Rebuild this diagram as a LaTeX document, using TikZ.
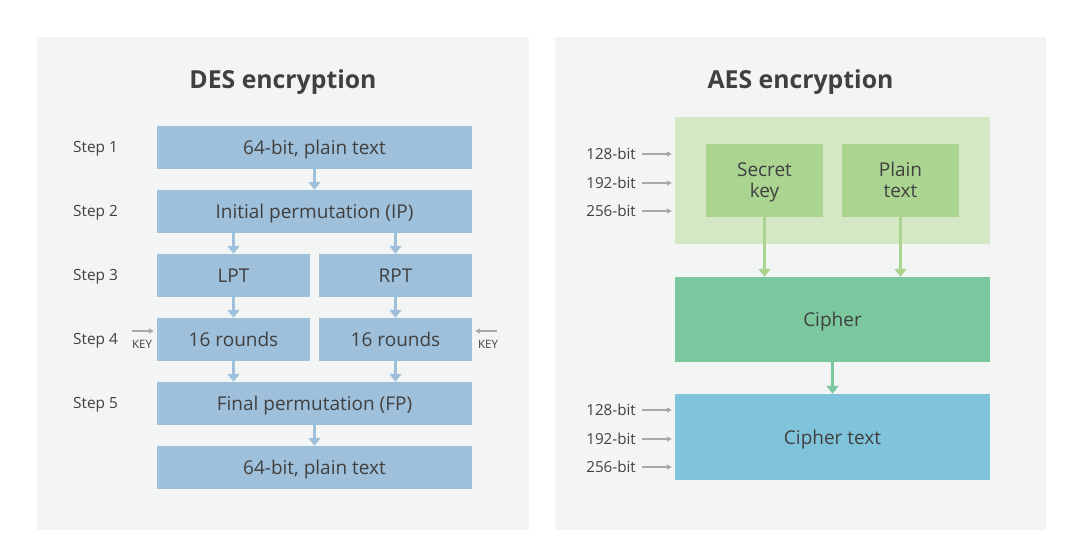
\documentclass[tikz,border=0pt]{standalone}
\usepackage{fontspec}
\setmainfont{Open Sans}
\usetikzlibrary{arrows.meta}
\definecolor{panel}{HTML}{F3F5F5}
\definecolor{ink}{HTML}{404040}
\definecolor{desblue}{HTML}{9EC0DB}
\definecolor{paleg}{HTML}{D4E8C6}
\definecolor{midg}{HTML}{ACD491}
\definecolor{cipherg}{HTML}{7BC89E}
\definecolor{ctblue}{HTML}{80C4DB}
\definecolor{keygray}{HTML}{A8A8A8}
\begin{document}
\begin{tikzpicture}[x=1pt,y=-1pt,
    box/.style={fill=#1, text=ink, inner sep=0pt, font=\fontsize{19}{21}\selectfont, align=center, text height=14pt, text depth=0pt},
    twoline/.style={text height=35pt, text depth=0pt},
    wide/.style={minimum width=315pt, minimum height=43pt},
    half/.style={minimum width=153pt, minimum height=43pt},
    steplbl/.style={text=ink, font=\fontsize{15.4}{17}\selectfont, anchor=west, inner sep=0pt},
    bitlbl/.style={text=ink, font=\fontsize{15.2}{17}\selectfont, anchor=east, inner sep=0pt},
    keylbl/.style={text=ink, font=\fontsize{11.5}{13}\selectfont, inner sep=0pt},
    title/.style={text=ink, font=\fontsize{24.8}{28}\selectfont\bfseries},
    flow/.style={draw=#1, line width=3pt, -{Triangle[width=12pt,length=8pt]}},
    keyarrow/.style={draw=keygray, line width=1.2pt, -{Triangle[width=5pt,length=5pt]}}]
    \useasboundingbox (0,0) rectangle (1079,545);
    \fill[white] (0,0) rectangle (1079,545);
    \fill[panel] (37,37) rectangle (529,530);
    \fill[panel] (555,37) rectangle (1046,530);

    % DES
    \node[title] (destitle) at (283,82) {DES encryption};
    \node[box=desblue, wide] (in) at (314.5,147.5) {64-bit, plain text};
    \node[box=desblue, wide] (ip) at (314.5,211.5) {Initial permutation (IP)};
    \node[box=desblue, half] (lpt) at (233.5,275.5) {LPT};
    \node[box=desblue, half] (rpt) at (395.5,275.5) {RPT};
    \node[box=desblue, half] (lr) at (233.5,339.5) {16 rounds};
    \node[box=desblue, half] (rr) at (395.5,339.5) {16 rounds};
    \node[box=desblue, wide] (fp) at (314.5,403.5) {Final permutation (FP)};
    \node[box=desblue, wide] (out) at (314.5,467.5) {64-bit, plain text};

    \node[steplbl] (s1) at (73,148.5) {Step 1};
    \node[steplbl] (s2) at (73,212.5) {Step 2};
    \node[steplbl] (s3) at (73,276.5) {Step 3};
    \node[steplbl] (s4) at (73,340.5) {Step 4};
    \node[steplbl] (s5) at (73,404.5) {Step 5};

    \node[keylbl] (keyl) at (142,344) {KEY};
    \node[keylbl] (keyr) at (488,344) {KEY};
    \coordinate (kl) at (132,331); \coordinate (kr) at (497,331);

    \draw[flow=desblue] (in) to (ip);
    \draw[flow=desblue] (ip.south -| lpt.north) to (lpt.north); \draw[flow=desblue] (ip.south -| rpt.north) to (rpt.north);
    \draw[flow=desblue] (lpt) to (lr); \draw[flow=desblue] (rpt) to (rr);
    \draw[flow=desblue] (lr.south) to (fp.north -| lr.south); \draw[flow=desblue] (rr.south) to (fp.north -| rr.south);
    \draw[flow=desblue] (fp) to (out);
    \draw[keyarrow] (kl) to ([xshift=-3pt]kl -| lr.west); \draw[keyarrow] (kr) to ([xshift=3pt]kr -| rr.east);

    % AES
    \node[title] (aestitle) at (800.5,82) {AES encryption};
    \node[fill=paleg, minimum width=315pt, minimum height=127pt, inner sep=0pt] (inputs) at (832.5,180.5) {};
    \node[box=midg, twoline, minimum width=117pt, minimum height=73pt] (skey) at (764.5,180.5) {Secret\\key};
    \node[box=midg, twoline, minimum width=117pt, minimum height=73pt] (ptext) at (900.5,180.5) {Plain\\text};
    \node[box=cipherg, minimum width=315pt, minimum height=85pt] (cipher) at (832.5,319.5) {Cipher};
    \node[box=ctblue, minimum width=315pt, minimum height=86pt] (ctext) at (832.5,437) {Cipher text};

    \node[bitlbl] (a128) at (636,154) {128-bit};
    \node[bitlbl] (a192) at (636,183) {192-bit};
    \node[bitlbl] (a256) at (636,211) {256-bit};
    \node[bitlbl] (b128) at (636,410) {128-bit};
    \node[bitlbl] (b192) at (636,439) {192-bit};
    \node[bitlbl] (b256) at (636,467) {256-bit};

    \draw[flow=midg] (skey.south) to (cipher.north -| skey.south); \draw[flow=midg] (ptext.south) to (cipher.north -| ptext.south);
    \draw[flow=cipherg] (cipher) to (ctext);
    \foreach \b in {a128,a192,a256} {\draw[keyarrow] ([xshift=6pt]\b.east) to ([xshift=-3pt]\b.east -| inputs.west);}
    \foreach \b in {b128,b192,b256} {\draw[keyarrow] ([xshift=6pt]\b.east) to ([xshift=-3pt]\b.east -| ctext.west);}
\end{tikzpicture}
\end{document}
